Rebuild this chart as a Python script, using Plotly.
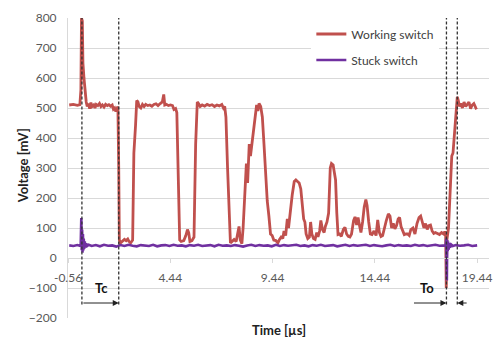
import plotly.graph_objects as go

# ---------------- data ----------------
working_t = [-0.50, -0.30, -0.10, 0.02, 0.07, 0.10, 0.14, 0.17, 0.22, 0.27, 0.33, 0.38, 0.44, 0.50,
             0.56, 0.62, 0.70, 0.76, 0.82, 0.90, 0.98, 1.05, 1.12, 1.20, 1.28, 1.36, 1.44, 1.52,
             1.60, 1.66, 1.72, 1.78, 1.84, 1.88, 1.92, 1.95, 2.00, 2.10, 2.20, 2.28, 2.36, 2.42,
             2.50, 2.60, 2.66, 2.74, 2.80, 2.86, 2.92, 3.00, 3.08, 3.16, 3.24, 3.34, 3.44, 3.54,
             3.64, 3.74, 3.84, 3.95, 4.05, 4.12, 4.17, 4.25, 4.35, 4.45, 4.55, 4.62, 4.70, 4.76,
             4.82, 4.90, 4.97, 5.10, 5.20, 5.28, 5.34, 5.40, 5.50, 5.60, 5.68, 5.76, 5.82, 5.90,
             6.00, 6.12, 6.24, 6.36, 6.48, 6.60, 6.72, 6.84, 6.96, 7.04, 7.10, 7.16, 7.24, 7.32,
             7.38, 7.46, 7.56, 7.66, 7.74, 7.80, 7.86, 7.94, 8.00, 8.08, 8.16, 8.22, 8.30, 8.36,
             8.44, 8.52, 8.60, 8.66, 8.72, 8.78, 8.86, 8.94, 9.02, 9.10, 9.18, 9.26, 9.34, 9.42,
             9.50, 9.60, 9.70, 9.78, 9.86, 9.94, 10.00, 10.08, 10.16, 10.22, 10.30, 10.40, 10.50,
             10.58, 10.66, 10.74, 10.82, 10.90, 10.96, 11.02, 11.08, 11.16, 11.24, 11.30, 11.36,
             11.44, 11.52, 11.60, 11.66, 11.74, 11.80, 11.88, 11.96, 12.02, 12.10, 12.18, 12.26,
             12.32, 12.40, 12.46, 12.52, 12.58, 12.64, 12.72, 12.80, 12.90, 12.98, 13.06, 13.14,
             13.22, 13.30, 13.40, 13.47, 13.55, 13.62, 13.70, 13.76, 13.84, 13.92, 14.00, 14.06,
             14.14, 14.22, 14.30, 14.40, 14.50, 14.58, 14.66, 14.74, 14.82, 14.92, 15.00, 15.10,
             15.18, 15.26, 15.34, 15.42, 15.50, 15.58, 15.65, 15.72, 15.80, 15.88, 15.96, 16.04,
             16.12, 16.20, 16.30, 16.40, 16.50, 16.60, 16.68, 16.76, 16.84, 16.92, 17.00, 17.08,
             17.16, 17.24, 17.32, 17.40, 17.50, 17.60, 17.70, 17.80, 17.86, 17.90, 17.93, 17.96,
             18.04, 18.12, 18.20, 18.26, 18.34, 18.42, 18.47, 18.52, 18.58, 18.64, 18.72, 18.80,
             18.88, 18.96, 19.04, 19.12, 19.20, 19.28, 19.38, 19.44]
working_v = [510, 512, 509, 511, 560, 800, 790, 650, 600, 560, 520, 505, 515, 498,
             518, 505, 510, 500, 512, 508, 515, 505, 510, 503, 512, 508, 511, 506,
             510, 496, 500, 488, 500, 505, 300, 60, 50, 55, 62, 58, 63, 55,
             50, 60, 350, 440, 525, 520, 505, 500, 512, 505, 512, 508, 510, 506,
             512, 514, 508, 515, 520, 545, 510, 512, 508, 510, 508, 495, 498, 485,
             300, 60, 55, 58, 75, 95, 85, 55, 58, 70, 380, 520, 515, 505,
             510, 506, 512, 508, 511, 505, 510, 507, 512, 500, 505, 470, 300, 120,
             50, 55, 62, 55, 80, 105, 60, 48, 100, 200, 315, 250, 380, 340,
             390, 420, 480, 510, 490, 515, 505, 470, 380, 260, 190, 140, 80, 75,
             60, 58, 50, 62, 70, 65, 90, 75, 130, 100, 160, 210, 255,
             260, 255, 250, 230, 160, 130, 120, 80, 65, 70, 120, 80,
             65, 62, 85, 70, 90, 125, 95, 85, 105, 120, 150, 300,
             315, 310, 285, 260, 150, 78, 80, 72, 95, 102, 80, 72,
             70, 80, 125, 137, 110, 135, 105, 85, 120, 170, 195, 175,
             120, 80, 78, 90, 75, 127, 85, 72, 75, 110, 125, 147,
             140, 100, 115, 97, 108, 130, 135, 105, 88, 78, 80, 80,
             75, 95, 100, 80, 115, 135, 140, 120, 100, 115, 95, 108,
             110, 90, 82, 85, 80, 78, 85, 80, 88, 82, -100, 60,
             100, 240, 340, 350, 430, 510, 537, 525, 505, 515, 500, 520,
             505, 512, 520, 498, 510, 515, 500, 502]

stuck_t = [-0.50, -0.30, -0.10, 0.02, 0.06, 0.09, 0.11, 0.13, 0.15, 0.17, 0.19, 0.21, 0.23, 0.26,
           0.29, 0.33, 0.38, 0.45, 0.60, 0.80, 1.00, 1.20, 1.40, 1.60, 1.80, 2.00, 2.20, 2.40,
           2.60, 2.80, 3.00, 3.20, 3.40, 3.60, 3.80, 4.00, 4.20, 4.40, 4.60, 4.80, 5.00, 5.20,
           5.40, 5.60, 5.80, 6.00, 6.20, 6.40, 6.60, 6.80, 7.00, 7.20, 7.40, 7.60, 7.80, 8.00,
           8.20, 8.40, 8.60, 8.80, 9.00, 9.20, 9.40, 9.60, 9.80, 10.00, 10.20, 10.40, 10.60,
           10.80, 11.00, 11.20, 11.40, 11.60, 11.80, 12.00, 12.20, 12.40, 12.60, 12.80, 13.00,
           13.20, 13.40, 13.60, 13.80, 14.00, 14.20, 14.40, 14.60, 14.80, 15.00, 15.20, 15.40,
           15.60, 15.80, 16.00, 16.20, 16.40, 16.60, 16.80, 17.00, 17.20, 17.40, 17.60, 17.80,
           17.90, 17.93, 17.96, 17.98, 18.00, 18.02, 18.05, 18.08, 18.12, 18.17, 18.25, 18.40,
           18.60, 18.80, 19.00, 19.20, 19.44]
stuck_v = [42, 40, 43, 42, 40, 133, 26, 95, 18, 80, 25, 65, 30, 55,
           35, 48, 40, 44, 40, 43, 39, 44, 41, 42, 38, 43, 40, 44,
           41, 39, 43, 42, 40, 44, 39, 42, 43, 40, 44, 41, 42, 39,
           43, 41, 44, 40, 42, 43, 39, 44, 41, 42, 40, 43, 41, 38,
           42, 44, 40, 43, 41, 42, 39, 44, 40, 43, 41, 42, 44,
           40, 42, 39, 43, 41, 44, 40, 42, 43, 39, 42, 44,
           40, 43, 41, 42, 44, 40, 43, 41, 39, 42, 44, 40,
           43, 41, 42, 40, 44, 41, 43, 40, 42, 44, 41, 43,
           42, 65, -75, 60, 22, 55, 28, 50, 35, 45, 40, 43,
           41, 42, 44, 40, 42]

tick_vals = [-0.56, 4.44, 9.44, 14.44, 19.44]
tick_text = ["-0.56", "4.44", "9.44", "14.44", "19.44"]

tc_start, tc_end = 0.12, 1.92
to_start, to_end = 17.94, 18.47
arrow_level = -150
label_level = -100
to_left_tail, to_right_tail = 16.28, 19.0

RED = "#C0504D"
PURPLE = "#7030A0"
GRID = "#D9D9D9"
FONT = "Lato"

fig = go.Figure()
fig.add_trace(go.Scatter(x=working_t, y=working_v, mode="lines", name="Working switch",
                         line=dict(color=RED, width=2.8), legendgroup="a"))
fig.add_trace(go.Scatter(x=stuck_t, y=stuck_v, mode="lines", name="Stuck switch",
                         line=dict(color=PURPLE, width=2.6), legendgroup="b"))

for xv in [tc_start, tc_end, to_start, to_end]:
    fig.add_shape(type="line", xref="x", yref="y", x0=xv, x1=xv, y0=arrow_level - 5, y1=800,
                  line=dict(color="#333333", width=1.3, dash="3px,2px"))

arrows = [(tc_end, tc_start), (to_start, to_left_tail), (to_end, to_right_tail)]
for head, tail in arrows:
    fig.add_annotation(x=head, y=arrow_level, ax=tail, ay=arrow_level, xref="x", yref="y",
                       axref="x", ayref="y", text="", showarrow=True, arrowhead=2,
                       arrowsize=1.2, arrowwidth=1, arrowcolor="#222222")

fig.add_annotation(x=1.09, y=label_level, text="<b>Tc</b>", showarrow=False,
                   xref="x", yref="y", font=dict(family=FONT, size=13, color="#111111"))
fig.add_annotation(x=17.01, y=label_level, text="<b>To</b>", showarrow=False,
                   xref="x", yref="y", font=dict(family=FONT, size=13, color="#111111"))

fig.add_annotation(x=0.5, y=-0.039, xref="paper", yref="paper", text="<b>Time [µs]</b>",
                   xanchor="center", yanchor="middle",
                   showarrow=False, font=dict(family=FONT, size=13, color="#222222"))
fig.add_annotation(x=-0.106, y=0.507, xref="paper", yref="paper", text="<b>Voltage [mV]</b>",
                   xanchor="center", yanchor="middle",
                   showarrow=False, textangle=-90, font=dict(family=FONT, size=13, color="#222222"))

fig.update_layout(
    width=502, height=340,
    margin=dict(l=68, r=10, t=12, b=22),
    paper_bgcolor="white", plot_bgcolor="white",
    font=dict(family=FONT, size=12, color="#595959"),
    legend=dict(x=0.578, y=0.995, xanchor="left", yanchor="top", bgcolor="white",
                font=dict(family=FONT, size=12, color="#404040"), tracegroupgap=7,
                itemwidth=30),
    xaxis=dict(range=[-0.56, 20.02], tickvals=tick_vals, ticktext=tick_text,
               anchor="free", position=0.2, showgrid=False, zeroline=False,
               showline=True, linecolor=GRID, linewidth=1, ticks="outside",
               ticklen=4, tickcolor=GRID, ticklabelstandoff=5,
               tickfont=dict(family=FONT, size=12, color="#595959")),
    yaxis=dict(range=[-200, 800], dtick=100, showgrid=True, gridcolor=GRID, gridwidth=1,
               zeroline=False, showline=True, linecolor=GRID, linewidth=1,
               ticks="", ticklabelstandoff=8,
               tickfont=dict(family=FONT, size=12, color="#595959")),
)

fig.write_html("out.html")
